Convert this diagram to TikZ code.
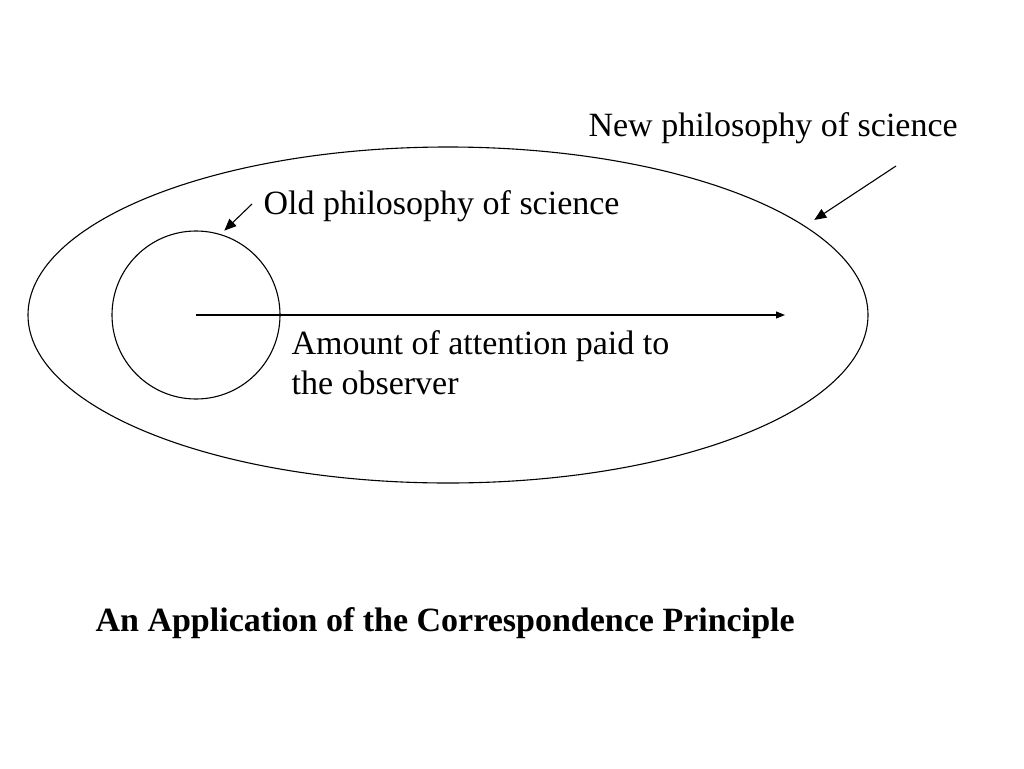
\documentclass[tikz,border=0pt]{standalone}
\usepackage{fontspec}
\setmainfont{Liberation Serif}
\usetikzlibrary{shapes.geometric,arrows.meta}

\begin{document}
\begin{tikzpicture}[x=1pt,y=-1pt,line width=1.1pt,
    mylabel/.style={font={\fontsize{34}{40}\selectfont}, inner sep=0pt, anchor=base west},
    title/.style={font={\fontsize{34}{40}\selectfont\bfseries}, inner sep=0pt, anchor=base west},
    pointer/.style={-{Triangle[length=12pt,width=10pt]}},
    axis/.style={-{Triangle[length=9pt,width=7pt]}}
  ]
  \useasboundingbox (0,0) rectangle (1024,768);

  % regions
  \node[ellipse, draw, minimum width=840pt, minimum height=336pt, inner sep=0pt] (newsci) at (448,315) {};
  \node[circle, draw, minimum size=168pt, inner sep=0pt] (oldsci) at (196,315) {};

  % labels
  \node[mylabel] (newlbl) at (588,136) {New philosophy of science};
  \node[mylabel] (oldlbl) at (263,214) {Old philosophy of science};
  \node[mylabel, align=left] (axislbl) at (291,394) {Amount of attention paid to\\the observer};
  \node[title] (caption) at (95,631) {An Application of the Correspondence Principle};

  % arrows
  \coordinate (newtail) at (896,166);
  \coordinate (oldtail) at (252,204);
  \coordinate (axisend) at (785,315);
  \draw[pointer, shorten >=11pt] (newtail) -- (newsci.14.2);
  \draw[pointer, shorten >=5pt] (oldtail) -- (oldsci.73);
  \draw[axis] (oldsci.center) -- (axisend);
\end{tikzpicture}
\end{document}
